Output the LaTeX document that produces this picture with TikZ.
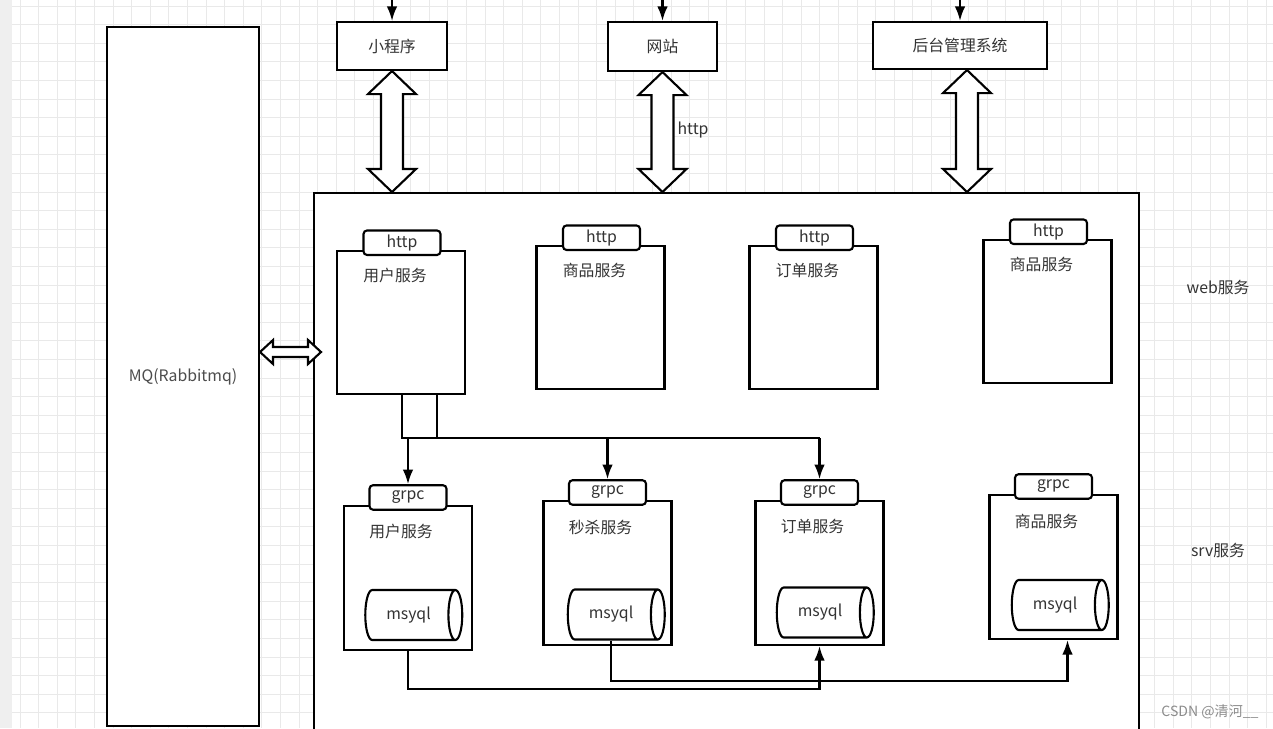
\documentclass[tikz,border=0pt]{standalone}
\usepackage{fontspec}
\setmainfont{Noto Sans CJK SC}
\usetikzlibrary{calc, shapes.geometric, arrows.meta}

\definecolor{txt}{HTML}{333333}
\definecolor{gridc}{HTML}{E9E9E9}
\definecolor{strip}{HTML}{EFEFEF}

\tikzset{
  lbl/.style={text=txt, font=\fontsize{9}{11}\selectfont, inner sep=1pt},
  box/.style={draw, fill=white, line width=1.2pt, inner sep=0pt},
  svc/.style={box, minimum width=2.56cm, minimum height=2.87cm},
  tab/.style={box, rounded corners=2pt, minimum width=1.54cm, minimum height=0.49cm, lbl},
  db/.style={draw, fill=white, line width=1.2pt, cylinder, aspect=0.7, minimum width=1cm, minimum height=1.94cm, lbl},
  line/.style={line width=1.2pt},
  arr/.style={line width=1.2pt, -{Latex[length=2.9mm, width=2.1mm]}},
  hollow/.style={draw, fill=white, line width=1.2pt, line join=miter}
}

\begin{document}
\begin{tikzpicture}[x=0.02cm, y=-0.02cm]
\useasboundingbox (0,0) rectangle (1273,728);
% background grid
\fill[white] (0,0) rectangle (1273,728);
\foreach \x in {20,38.6,...,1273} \draw[gridc, line width=0.4pt] (\x,0) -- (\x,728);
\foreach \y in {6,24.6,...,728} \draw[gridc, line width=0.4pt] (0,\y) -- (1273,\y);
\fill[strip] (0,0) rectangle (12,728);

% containers
\node[box, minimum width=16.5cm, minimum height=11.34cm] (main) at (726.5,476.5) {};
\node[box, minimum width=3.04cm, minimum height=13.98cm, lbl, text=black!70] (mq) at (183,376.5) {MQ(Rabbitmq)};

% clients
\node[box, lbl, minimum width=2.2cm, minimum height=0.96cm] (mini) at (392,46) {小程序};
\node[box, lbl, minimum width=2.18cm, minimum height=0.98cm] (site) at (662.5,46.5) {网站};
\node[box, lbl, minimum width=3.48cm, minimum height=0.94cm] (admin) at (960,45.5) {后台管理系统};
\coordinate (top) at (0,0);
\foreach \n in {mini,site,admin} \draw[arr] (\n.north |- top) -- (\n.north);

% big double arrows
\foreach \n/\dx in {mini/0, site/0, admin/7} {
  \coordinate (ta) at ($(\n.south)+(\dx,0)$);
  \coordinate (tb) at (ta |- main.north);
  \draw[hollow] (ta) -- ($(ta)+(24,23)$) -- ($(ta)+(11,23)$) -- ($(tb)+(11,-23)$)
    -- ($(tb)+(24,-23)$) -- (tb) -- ($(tb)+(-24,-23)$) -- ($(tb)+(-11,-23)$)
    -- ($(ta)+(-11,23)$) -- ($(ta)+(-24,23)$) -- cycle;
}
\node[lbl] (proto) at (693,130) {http};

\coordinate (ha) at (mq.east |- 0,352);
\coordinate (hb) at ($(main.west |- ha)+(8,0)$);
\draw[hollow] (ha) -- ($(ha)+(13,-12)$) -- ($(ha)+(13,-5)$) -- ($(hb)+(-13,-5)$)
  -- ($(hb)+(-13,-12)$) -- (hb) -- ($(hb)+(-13,12)$) -- ($(hb)+(-13,5)$)
  -- ($(ha)+(13,5)$) -- ($(ha)+(13,12)$) -- cycle;

% web services
\foreach \n/\x/\y/\t in {w1/401/322.5/用户服务, w2/600.5/317.5/商品服务, w3/813.5/317.5/订单服务, w4/1047.5/311.5/商品服务} {
  \node[svc] (\n) at (\x,\y) {};
  \node[tab] (\n h) at ($(\n.north)+(1,-7)$) {http};
  \node[lbl] (\n t) at ($(\n.north)+(-6,26)$) {\t};
}
\node[lbl] (web) at (1218,287) {web服务};

% srv services
\foreach \n/\x/\y/\t in {s1/408/578/用户服务, s2/607.5/573/秒杀服务, s3/819.5/573/订单服务, s4/1053.5/567/商品服务} {
  \node[svc, minimum height=2.88cm] (\n) at (\x,\y) {};
  \node[tab] (\n g) at ($(\n.north)+(0,-7.5)$) {grpc};
  \node[lbl] (\n t) at ($(\n.north)+(-7,27)$) {\t};
}
\node[lbl] (srv) at (1218,550) {srv服务};

\node[db] (c1) at (408.5,615) {msyql};
\node[db] (c2) at (611,614.5) {msyql};
\node[db] (c3) at (820,612.5) {msyql};
\node[db] (c4) at (1055,605) {msyql};

% web -> srv
\coordinate (bus) at ($(w1.south)+(1,43)$);
\draw[line] ($(w1.south)+(1,0)$) -- (bus) -- (bus -| s3g.north);
\draw[line] ($(w1.south)+(36,0)$) -- ++(0,43);
\foreach \g in {s1g,s2g,s3g} \draw[arr] (bus -| \g.north) -- (\g.north);

% srv -> srv
\draw[arr] (s1.south) -- ++(0,38) -| (s3.south);
\draw[arr] (c2.south) -- ++(0,40) -| ($(s4.south)+(14,0)$);

\node[text=black!45, font=\fontsize{8}{10}\selectfont] (mark) at (1210,712) {CSDN @清河\_\_};
\end{tikzpicture}
\end{document}
